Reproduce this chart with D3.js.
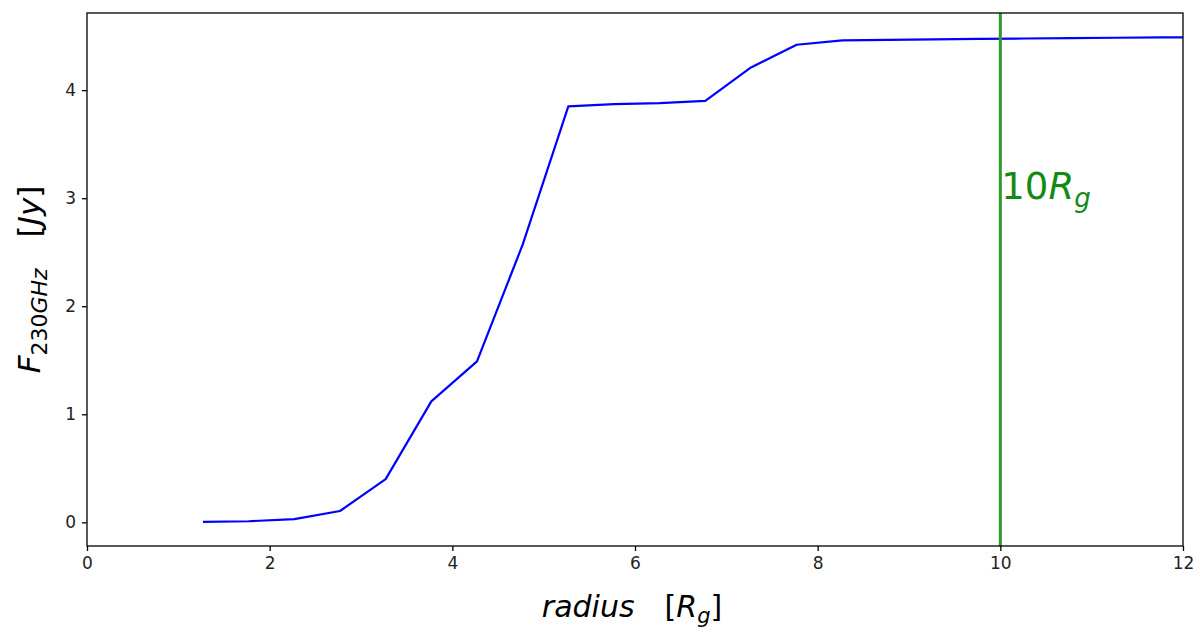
<!DOCTYPE html>
<html>
<head>
<meta charset="utf-8">
<script src="https://cdn.jsdelivr.net/npm/d3@7"></script>
<style>
  html, body { margin: 0; padding: 0; background: #fff; }
  svg { display: block; }
  text { font-family: "DejaVu Sans", sans-serif; }
</style>
</head>
<body>
<svg id="chart" width="1200" height="635"></svg>
<script>
// ---- data ----
const radius = [1.27, 1.77, 2.27, 2.77, 3.27, 3.77, 4.27, 4.77, 5.27, 5.77, 6.27, 6.77,
                7.27, 7.77, 8.27, 8.77, 9.27, 9.77, 10.27, 10.77, 11.27, 11.77, 12.27];
const flux = [0.005, 0.01, 0.03, 0.105, 0.40, 1.12, 1.49, 2.57, 3.85, 3.87, 3.88, 3.90,
              4.21, 4.42, 4.46, 4.465, 4.47, 4.475, 4.478, 4.482, 4.485, 4.488, 4.49];
const xTicks = [0, 2, 4, 6, 8, 10, 12];
const yTicks = [0, 1, 2, 3, 4];
const markerRadius = 10;

// ---- layout ----
const svg = d3.select("#chart");
const pL = 87, pR = 1183, pT = 13, pB = 546;

const x = d3.scaleLinear().domain([0, 12]).range([pL, pR]);
const y = d3.scaleLinear().domain([-0.219, 4.714]).range([pB, pT]);

svg.append("defs").append("clipPath").attr("id", "clip")
  .append("rect").attr("x", pL).attr("y", pT)
  .attr("width", pR - pL).attr("height", pB - pT);

// curve
const pts = radius.map((r, i) => [r, flux[i]]);
svg.append("path")
  .attr("clip-path", "url(#clip)")
  .attr("d", d3.line().x(d => x(d[0])).y(d => y(d[1]))(pts))
  .attr("fill", "none")
  .attr("stroke", "#0000ff")
  .attr("stroke-width", 2.2)
  .attr("stroke-linejoin", "round");

// vertical marker
svg.append("line")
  .attr("x1", x(markerRadius)).attr("x2", x(markerRadius))
  .attr("y1", pT).attr("y2", pB)
  .attr("stroke", "#2e9a2e").attr("stroke-width", 3);

const mk = svg.append("text")
  .attr("x", x(markerRadius) + 1).attr("y", 199)
  .attr("fill", "#138a13").attr("font-size", 37);
mk.append("tspan").text("10");
mk.append("tspan").attr("font-style", "italic").text("R");
mk.append("tspan").attr("font-style", "italic").attr("font-size", 26).attr("dy", 8).text("g");

// axes
const xAxis = d3.axisBottom(x).tickValues(xTicks).tickSize(5).tickPadding(6).tickFormat(d3.format("d"));
const yAxis = d3.axisLeft(y).tickValues(yTicks).tickSize(5).tickPadding(6).tickFormat(d3.format("d"));

const gx = svg.append("g").attr("transform", `translate(0,${pB})`).call(xAxis);
const gy = svg.append("g").attr("transform", `translate(${pL},0)`).call(yAxis);
[gx, gy].forEach(g => {
  g.select(".domain").remove();
  g.selectAll(".tick line").attr("stroke", "#000").attr("stroke-width", 1.3);
  g.selectAll(".tick text").attr("fill", "#222").attr("font-size", 17)
    .attr("font-family", "DejaVu Sans, sans-serif");
});

// frame
svg.append("rect")
  .attr("x", pL).attr("y", pT)
  .attr("width", pR - pL).attr("height", pB - pT)
  .attr("fill", "none").attr("stroke", "#000").attr("stroke-width", 1.3);

// x label
const xl = svg.append("text")
  .attr("x", (pL + pR) / 2 - 3).attr("y", 617)
  .attr("text-anchor", "middle").attr("font-size", 30).attr("fill", "#000");
xl.append("tspan").attr("font-style", "italic").text("radius");
xl.append("tspan").text("\u2002\u2002");
xl.append("tspan").text("[");
xl.append("tspan").attr("font-style", "italic").text("R");
xl.append("tspan").attr("font-style", "italic").attr("font-size", 21).attr("dy", 6).text("g");
xl.append("tspan").attr("dy", -6).text("]");

// y label
const yl = svg.append("text")
  .attr("transform", `translate(40,${(pT + pB) / 2}) rotate(-90)`)
  .attr("text-anchor", "middle").attr("font-size", 31).attr("fill", "#000");
yl.append("tspan").attr("font-style", "italic").text("F");
yl.append("tspan").attr("font-size", 22).attr("dy", 7).text("230");
yl.append("tspan").attr("font-size", 22).attr("font-style", "italic").text("GHz");
yl.append("tspan").attr("dy", -7).text("\u2002\u2002[");
yl.append("tspan").attr("font-style", "italic").text("Jy");
yl.append("tspan").text("]");
</script>
</body>
</html>
